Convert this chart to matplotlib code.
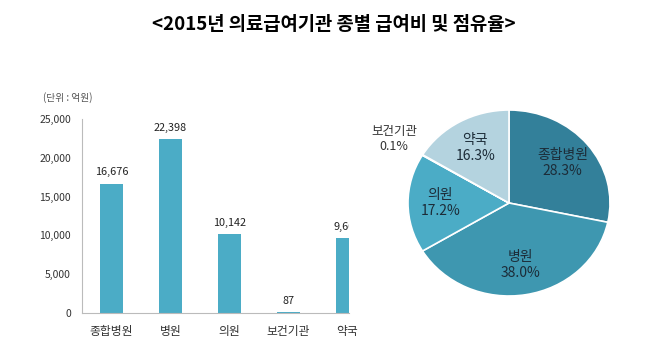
import matplotlib
matplotlib.use('Agg')
import matplotlib.pyplot as plt

plt.rcParams['font.family'] = ['Noto Sans CJK KR', 'DejaVu Sans']

# data
categories = ['종합병원', '병원', '의원', '보건기관', '약국']
amounts = [16676, 22398, 10142, 87, 9605]
bar_labels = ['16,676', '22,398', '10,142', '87', '9,605']
pie_names = ['종합병원', '병원', '의원', '보건기관', '약국']
pie_shares = [28.3, 38.0, 17.2, 0.1, 16.3]
yticks = [0, 5000, 10000, 15000, 20000, 25000]

W, H = 667, 353
fig = plt.figure(figsize=(W / 100, H / 100), dpi=100)

fig.text(0.5, 1 - 24 / H, '<2015년 의료급여기관 종별 급여비 및 점유율>',
         ha='center', va='center', fontsize=13.5, fontweight='bold', color='black')

# bar chart
ax = fig.add_axes([82 / W, 40 / H, (349 - 82) / W, 194 / H])
x = range(len(categories))
ax.bar(x, amounts, width=0.39, color='#4BACC6')
for i, v in enumerate(amounts):
    ax.text(i, v + 800, bar_labels[i], ha='center', va='bottom', fontsize=7.8,
            color='#222222', clip_on=True)
ax.set_xlim(-0.5, 4.025)
ax.set_ylim(0, 25000)
ax.set_yticks(yticks)
ax.set_yticklabels([f'{t:,}' for t in yticks], fontsize=7.5, color='#333333')
ax.set_xticks(list(x))
ax.set_xticklabels(categories, fontsize=8.5, color='#333333')
ax.tick_params(length=0, pad=8)
ax.tick_params(axis='x', pad=9)
for s in ['top', 'right']:
    ax.spines[s].set_visible(False)
ax.spines['left'].set_color('#BBBBBB')
ax.spines['bottom'].set_color('#BBBBBB')
fig.text(43 / W, 1 - 98 / H, '(단위 : 억원)', fontsize=7, color='#555555', va='center')

# pie chart
pax = fig.add_axes([(509 - 101) / W, (H - 203 - 93) / H, 202 / W, 186 / H])
pie_colors = ['#33809A', '#3E97B0', '#4BACC6', '#4BACC6', '#B4D3DF']
wedges, texts = pax.pie(pie_shares, colors=pie_colors, startangle=90, counterclock=False,
                        labels=[f'{n}\n{p:.1f}%' for n, p in zip(pie_names, pie_shares)],
                        labeldistance=0.68,
                        wedgeprops=dict(edgecolor='white', linewidth=1.2),
                        textprops=dict(fontsize=10, ha='center', va='center',
                                       color='#1C2C38', linespacing=1.2))
pax.set_aspect('auto')
pax.set_xlim(-1, 1)
pax.set_ylim(-1, 1)
px, py = texts[3].get_position()
texts[3].set_position((px * 1.33 / 0.68, py * 1.33 / 0.68))
texts[3].set_color('#333333')
texts[3].set_fontsize(9)

fig.savefig('out.png', dpi=100)
